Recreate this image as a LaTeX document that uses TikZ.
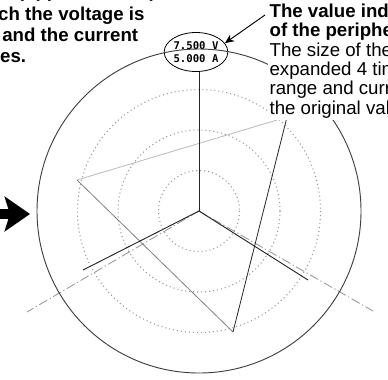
\documentclass[tikz,border=0pt]{standalone}
\usepackage{fontspec}
\setmainfont{Liberation Sans}
\newfontfamily\lcdfont{DejaVu Sans Mono}
\usetikzlibrary{shapes.geometric,arrows.meta}

\begin{document}
\begin{tikzpicture}[x=0.75pt, y=-0.75pt,
  ring/.style={draw=gray!80, line width=0.8pt, dash pattern=on 0.8pt off 2.2pt},
  rim/.style={draw=black!75, line width=0.7pt},
  axis/.style={draw=gray!85, line width=0.6pt,
    dash pattern=on 7pt off 2pt on 1pt off 2pt},
  phasor/.style={draw=black!85, line width=0.7pt},
  side/.style={line width=0.6pt},
  lcd/.style={ellipse, draw, line width=0.6pt, minimum width=46.5pt,
    minimum height=29.25pt, inner sep=0pt, align=center,
    font=\lcdfont\bfseries\fontsize{8}{9.5}\selectfont},
  note/.style={fill=white, inner sep=1pt, align=left, anchor=north west,
    font=\fontsize{14}{14.6}\selectfont},
  caption/.style={inner sep=0pt, align=left, anchor=north west,
    font=\bfseries\fontsize{14}{15.6}\selectfont},
  ptr/.style={-{Stealth[length=7pt,width=6pt]}, line width=0.7pt},
  bigarr/.style={-{Stealth[length=19pt,width=26pt,inset=4pt]},
    line width=7.5pt},
]
\useasboundingbox (0,0) rectangle (388,379);

% Centre, phasor tips and triangle corners
\coordinate (O) at (199,211);
\coordinate (uA) at (77,180);
\coordinate (uB) at (287,117);
\coordinate (uC) at (233,332);
\coordinate (iL) at (83,270);
\coordinate (iR) at (308,280);
\coordinate (axL) at (27,312);
\coordinate (axR) at (373,311);

% Scale rings
\foreach \r in {40.5,81,121.5}
  \draw[ring] (O) circle[radius=\r];

% Reference axes
\draw[axis] (O) -- (axL);
\draw[axis] (O) -- (axR);

% Triangle
\draw[side, draw=gray!55] (uA) -- (uB);
\draw[side, draw=gray] (uA) -- (uC);
\draw[side, draw=black!85] (uC) -- (uB);

% Readout at the top of the circle
\node[lcd] (reading) at (196,52) {7.500 V\\5.000 A};

% Phasors
\draw[phasor] (O) -- (O |- reading.south);
\draw[phasor] (O) -- (iL);
\draw[phasor] (O) -- (iR);

% Peripheral circle
\draw[rim] (O) circle[radius=162];

% Texts
\node[caption] (leftnote) at (-55,-16.7)
  {Vectors (upper window)\\[2pt]in which the voltage is\\larger and the current\\changes.};
\node[note] (rightnote) at (268,2)
  {\textbf{The value indicated at the top}\\
   \textbf{of the peripheral circle is the range.}\\
   The size of the circle is\\
   expanded 4 times for the voltage\\
   range and current range of\\
   the original value.};

% Pointers
\coordinate (ptrtail) at (265,15);
\draw[ptr] (ptrtail) -- (reading.17);
\coordinate (tail) at (-12,214);
\coordinate (tip) at (30,214);
\draw[bigarr] (tail) -- (tip);
\end{tikzpicture}
\end{document}
